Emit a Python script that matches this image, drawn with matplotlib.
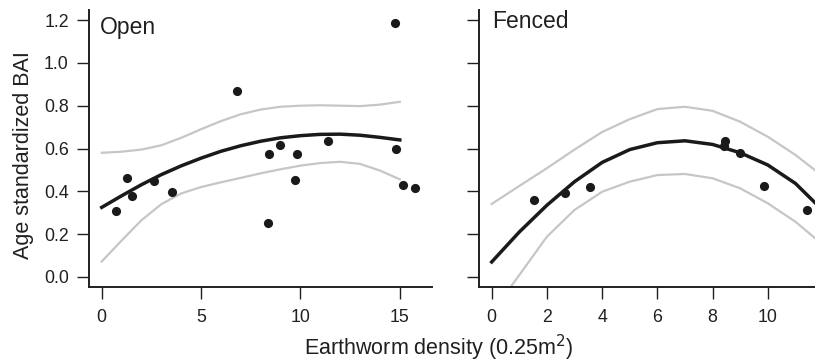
import matplotlib
matplotlib.use("Agg")
import matplotlib.pyplot as plt
import numpy as np

plt.rcParams['font.family'] = ['Liberation Sans', 'DejaVu Sans']

# Open plots: observed points
open_x = [0.70, 1.29, 1.54, 2.65, 3.54, 6.79, 8.44, 8.39, 8.99, 9.83, 9.73, 11.39, 14.75, 14.80, 15.18, 15.77]
open_y = [0.308, 0.461, 0.380, 0.448, 0.398, 0.868, 0.573, 0.251, 0.615, 0.573, 0.453, 0.635, 1.184, 0.598, 0.430, 0.414]

# Open plots: fitted curve and confidence band (read at integer densities)
open_grid = [0, 1, 2, 3, 4, 5, 6, 7, 8, 9, 10, 11, 12, 13, 14, 15]
open_fit = [0.325, 0.379, 0.431, 0.478, 0.519, 0.555, 0.587, 0.613, 0.634, 0.650, 0.660, 0.666, 0.667, 0.662, 0.652, 0.640]
open_upper = [0.580, 0.585, 0.595, 0.615, 0.650, 0.690, 0.728, 0.760, 0.782, 0.795, 0.800, 0.802, 0.800, 0.798, 0.805, 0.818]
open_lower = [0.072, 0.170, 0.265, 0.340, 0.390, 0.420, 0.442, 0.463, 0.484, 0.503, 0.520, 0.532, 0.538, 0.528, 0.497, 0.456]

# Fenced plots
fenced_x = [1.54, 2.64, 3.56, 8.45, 8.43, 9.00, 9.87, 11.41]
fenced_y = [0.360, 0.391, 0.420, 0.635, 0.613, 0.577, 0.426, 0.313]

fenced_grid = [0, 1, 2, 3, 4, 5, 6, 7, 8, 9, 10, 11, 12]
fenced_fit = [0.070, 0.210, 0.335, 0.445, 0.535, 0.595, 0.627, 0.636, 0.619, 0.580, 0.523, 0.437, 0.310]
fenced_upper = [0.341, 0.425, 0.508, 0.595, 0.677, 0.737, 0.784, 0.795, 0.776, 0.725, 0.655, 0.570, 0.470]
fenced_lower = [-0.170, 0.009, 0.188, 0.313, 0.398, 0.445, 0.476, 0.481, 0.461, 0.414, 0.344, 0.258, 0.150]

y_ticks = [0.0, 0.2, 0.4, 0.6, 0.8, 1.0, 1.2]
y_labels = ["0.0", "0.2", "0.4", "0.6", "0.8", "1.0", "1.2"]

W, H = 815, 363
fig = plt.figure(figsize=(W / 100, H / 100), dpi=100)

ax1 = fig.add_axes([89 / W, 1 - 287 / H, (432 - 89) / W, (287 - 10) / H])
ax2 = fig.add_axes([479 / W, 1 - 287 / H, (815 - 479) / W, (287 - 10) / H])

gray = "#c6c6c6"
dark = "#1a1a1a"
txt = "#231f20"

def style(ax):
    for s in ["top", "right"]:
        ax.spines[s].set_visible(False)
    for s in ["left", "bottom"]:
        ax.spines[s].set_linewidth(1.4)
        ax.spines[s].set_color(txt)
    ax.tick_params(length=8.5, width=1.0, color=txt, labelsize=12.8, labelcolor=txt)
    ax.tick_params(axis="x", pad=7.5)
    ax.tick_params(axis="y", pad=6)
    ax.set_ylim(-0.047, 1.247)
    ax.set_yticks(y_ticks)

# Open panel
ax1.plot(open_grid, open_upper, color=gray, lw=1.6, zorder=1)
ax1.plot(open_grid, open_lower, color=gray, lw=1.6, zorder=1)
ax1.plot(open_grid, open_fit, color=dark, lw=2.5, zorder=2)
ax1.plot(open_x, open_y, "o", color=dark, ms=6.6, mec="none", zorder=3, clip_on=False)
style(ax1)
ax1.set_xlim(-0.64, 16.62)
ax1.set_xticks([0, 5, 10, 15])
ax1.set_yticklabels(y_labels)
ax1.text(0.032, 0.913, "Open", transform=ax1.transAxes, fontsize=16.5,
         va="baseline", ha="left", color=txt)

# Fenced panel
ax2.plot(fenced_grid, fenced_upper, color=gray, lw=1.6, zorder=1)
ax2.plot(fenced_grid, fenced_lower, color=gray, lw=1.6, zorder=1)
ax2.plot(fenced_grid, fenced_fit, color=dark, lw=2.5, zorder=2)
ax2.plot(fenced_x, fenced_y, "o", color=dark, ms=6.6, mec="none", zorder=3)
style(ax2)
ax2.set_xlim(-0.46, 11.71)
ax2.set_xticks([0, 2, 4, 6, 8, 10])
ax2.set_yticklabels([])
ax2.text(0.04, 0.934, "Fenced", transform=ax2.transAxes, fontsize=16.5,
         va="baseline", ha="left", color=txt)

fig.text(24 / W, 1 - 155 / H, "Age standardized BAI", rotation=90, fontsize=15.5,
         ha="center", va="center", color=txt)
fig.text(439 / W, 1 - 348 / H, "Earthworm density (0.25m$^2$)", fontsize=15.5,
         ha="center", va="center", color=txt)

plt.savefig("out.png", dpi=100)
